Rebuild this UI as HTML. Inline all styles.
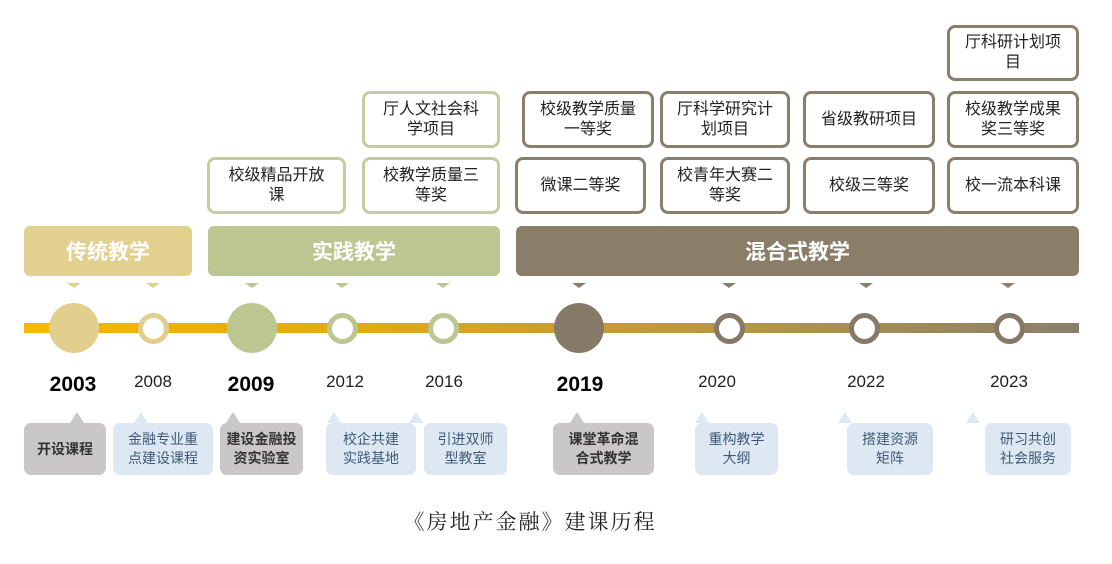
<!DOCTYPE html>
<html><head><meta charset="utf-8"><style>
body{margin:0;width:1112px;height:564px;background:#fff;position:relative;overflow:hidden;font-family:"Liberation Sans","Noto Sans CJK SC",sans-serif}
.a{position:absolute;box-sizing:border-box}
.tb{position:absolute;box-sizing:border-box;border:3px solid #c5cc9f;border-radius:8px;background:#fff;display:flex;align-items:center;justify-content:center;text-align:center;font-size:16px;line-height:20px;color:#222;padding:0 14px}
.br{border-color:#8a7f6d}
.ph{position:absolute;border-radius:6px;color:#fff;font-weight:bold;font-size:21px;display:flex;align-items:center;justify-content:center;top:226px;height:50px}
.tri{position:absolute;top:283px;width:0;height:0;border-left:7px solid transparent;border-right:7px solid transparent;border-top:5px solid #e2d08f}
.c{position:absolute;border-radius:50%;box-sizing:border-box}
.y{position:absolute;top:372px;font-size:17px;color:#222;transform:translateX(-50%)}
.yb{font-size:21px;font-weight:bold;color:#000;top:373px}
.bx{position:absolute;top:423px;height:52px;border-radius:7px;display:flex;align-items:center;justify-content:center;text-align:center;font-size:14px;line-height:19px;color:#3d5a78;background:#dde8f2}
.g{background:#c9c7c7;color:#333;font-weight:bold}
.pt{position:absolute;top:412px;width:0;height:0;border-left:7px solid transparent;border-right:7px solid transparent;border-bottom:11px solid #dde8f2}
.pg{border-bottom-color:#c9c7c7}
</style></head><body>
<div class="tb br" style="left:947px;top:25px;width:132px;height:56px">厅科研计划项目</div>
<div class="tb" style="left:362px;top:91px;width:138px;height:57px">厅人文社会科学项目</div>
<div class="tb br" style="left:522px;top:91px;width:132px;height:57px">校级教学质量一等奖</div>
<div class="tb br" style="left:660px;top:91px;width:130px;height:57px">厅科学研究计划项目</div>
<div class="tb br" style="left:803px;top:91px;width:132px;height:57px">省级教研项目</div>
<div class="tb br" style="left:947px;top:91px;width:132px;height:57px">校级教学成果奖三等奖</div>
<div class="tb" style="left:207px;top:157px;width:139px;height:57px">校级精品开放课</div>
<div class="tb" style="left:362px;top:157px;width:138px;height:57px">校教学质量三等奖</div>
<div class="tb br" style="left:515px;top:157px;width:131px;height:57px">微课二等奖</div>
<div class="tb br" style="left:660px;top:157px;width:130px;height:57px">校青年大赛二等奖</div>
<div class="tb br" style="left:803px;top:157px;width:132px;height:57px">校级三等奖</div>
<div class="tb br" style="left:947px;top:157px;width:132px;height:57px">校一流本科课</div>
<div class="ph" style="left:24px;width:168px;background:#e2d08f">传统教学</div>
<div class="ph" style="left:208px;width:292px;background:#bcc690">实践教学</div>
<div class="ph" style="left:516px;width:563px;background:#8a7e69">混合式教学</div>
<div class="tri" style="left:67px"></div><div class="tri" style="left:146px"></div>
<div class="tri" style="left:245px;border-top-color:#bcc690"></div><div class="tri" style="left:335px;border-top-color:#bcc690"></div><div class="tri" style="left:436px;border-top-color:#bcc690"></div>
<div class="tri" style="left:572px;border-top-color:#8a7e69"></div><div class="tri" style="left:722px;border-top-color:#8a7e69"></div><div class="tri" style="left:859px;border-top-color:#8a7e69"></div><div class="tri" style="left:1001px;border-top-color:#8a7e69"></div>
<div class="a" style="left:24px;top:323px;width:1055px;height:10px;background:linear-gradient(90deg,#f6b800 0%,#e3ac10 30%,#c89a35 55%,#b29545 70%,#8a7f6d 100%)"></div>
<div class="c" style="left:49px;top:303px;width:50px;height:50px;background:#e2cf8e"></div>
<div class="c" style="left:138px;top:313px;width:31px;height:31px;border:5px solid #e2cf8e;background:#fff"></div>
<div class="c" style="left:227px;top:303px;width:50px;height:50px;background:#bcc690"></div>
<div class="c" style="left:327px;top:313px;width:31px;height:31px;border:5px solid #bcc690;background:#fff"></div>
<div class="c" style="left:428px;top:313px;width:31px;height:31px;border:5px solid #bcc690;background:#fff"></div>
<div class="c" style="left:554px;top:303px;width:50px;height:50px;background:#857a68"></div>
<div class="c" style="left:714px;top:313px;width:31px;height:31px;border:5px solid #857a68;background:#fff"></div>
<div class="c" style="left:849px;top:313px;width:31px;height:31px;border:5px solid #857a68;background:#fff"></div>
<div class="c" style="left:994px;top:313px;width:31px;height:31px;border:5px solid #857a68;background:#fff"></div>
<div class="y yb" style="left:73px">2003</div>
<div class="y" style="left:153px">2008</div>
<div class="y yb" style="left:251px">2009</div>
<div class="y" style="left:345px">2012</div>
<div class="y" style="left:444px">2016</div>
<div class="y yb" style="left:580px">2019</div>
<div class="y" style="left:717px">2020</div>
<div class="y" style="left:866px">2022</div>
<div class="y" style="left:1009px">2023</div>
<div class="pt pg" style="left:70px"></div><div class="pt" style="left:134px"></div><div class="pt pg" style="left:226px"></div><div class="pt" style="left:327px"></div><div class="pt" style="left:409px"></div><div class="pt pg" style="left:570px"></div><div class="pt" style="left:695px"></div><div class="pt" style="left:838px"></div><div class="pt" style="left:966px"></div>
<div class="bx g" style="left:24px;width:82px">开设课程</div>
<div class="bx" style="left:113px;width:100px">金融专业重<br>点建设课程</div>
<div class="bx g" style="left:220px;width:83px">建设金融投<br>资实验室</div>
<div class="bx" style="left:326px;width:90px">校企共建<br>实践基地</div>
<div class="bx" style="left:424px;width:83px">引进双师<br>型教室</div>
<div class="bx g" style="left:553px;width:101px">课堂革命混<br>合式教学</div>
<div class="bx" style="left:695px;width:83px">重构教学<br>大纲</div>
<div class="bx" style="left:847px;width:86px">搭建资源<br>矩阵</div>
<div class="bx" style="left:985px;width:86px">研习共创<br>社会服务</div>
<div class="a" style="left:330px;top:506px;width:400px;text-align:center;font-family:'Liberation Serif','Noto Serif CJK SC',serif;font-size:21px;color:#222;letter-spacing:2px">《房地产金融》建课历程</div>
</body></html>
